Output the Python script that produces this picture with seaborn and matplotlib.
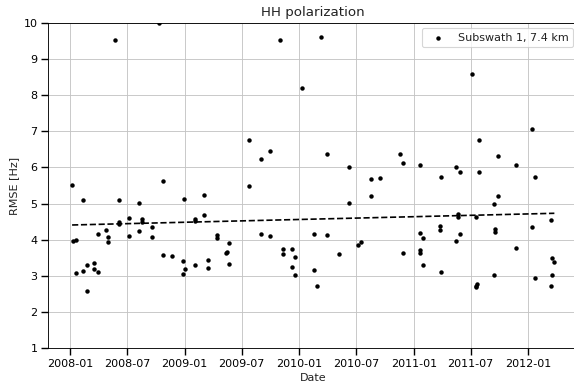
import numpy as np
import pandas as pd
import matplotlib
matplotlib.use("Agg")
import matplotlib.pyplot as plt
import matplotlib.dates as mdates
import seaborn as sns

# Acquisition offsets (days after 2008-01-01) and Doppler RMSE per acquisition
day_offset = [
    7, 10, 19, 19, 43, 43, 54, 54, 78, 78, 89, 89, 116, 123, 123, 145, 155, 155, 155,
    189, 189, 219, 219, 229, 229, 262, 262, 285, 296, 296, 325, 359, 359, 364, 367,
    398, 399, 399, 428, 428, 439, 439, 470, 470, 497, 500, 507, 507, 570, 570, 608,
    608, 638, 638, 670, 680, 680, 708, 708, 717, 717, 740, 779, 779, 786, 801, 818,
    818, 859, 890, 890, 917, 927, 959, 959, 987, 1053, 1063, 1063, 1115, 1115, 1117,
    1117, 1126, 1126, 1178, 1178, 1184, 1184, 1232, 1232, 1238, 1238, 1242, 1243,
    1280, 1293, 1293, 1297, 1293, 1305, 1305, 1353, 1356, 1356, 1353, 1364, 1364,
    1423, 1423, 1472, 1473, 1483, 1483, 1533, 1533, 1536, 1536, 1544,
]
rmse_hz = [
    5.51, 3.97, 3.99, 3.08, 5.10, 3.15, 3.29, 2.59, 3.36, 3.19, 3.12, 4.15, 4.27, 4.08,
    3.94, 9.53, 5.10, 4.48, 4.44, 4.60, 4.11, 5.01, 4.24, 4.58, 4.50, 4.36, 4.09, 9.98,
    5.63, 3.58, 3.55, 3.40, 3.06, 5.13, 3.19, 4.58, 4.52, 3.31, 5.25, 4.69, 3.43, 3.21,
    4.13, 4.04, 3.63, 3.65, 3.92, 3.34, 6.75, 5.48, 6.23, 4.15, 6.46, 4.11, 9.53, 3.74,
    3.61, 3.74, 3.25, 3.52, 3.02, 8.20, 4.17, 3.17, 2.73, 9.60, 6.38, 4.13, 3.61, 6.02,
    5.01, 3.85, 3.93, 5.67, 5.21, 5.72, 6.38, 6.12, 3.64, 6.06, 4.18, 3.71, 3.64, 4.06,
    3.29, 4.38, 4.27, 5.73, 3.12, 6.02, 3.97, 4.70, 4.64, 5.88, 4.17, 8.57, 4.64, 2.73,
    2.77, 2.70, 6.77, 5.86, 4.99, 4.29, 4.22, 3.02, 6.32, 5.22, 6.06, 3.77, 7.06, 4.34,
    5.73, 2.93, 4.54, 2.71, 3.49, 3.02, 3.38,
]
series_label = "Subswath 1, 7.4 km"

start = pd.Timestamp("2008-01-01")
df = pd.DataFrame({
    "date": start + pd.to_timedelta(day_offset, unit="D"),
    "rmse": rmse_hz,
}).sort_values("date")

# Linear trend of RMSE over time
t = np.array(day_offset, dtype=float)
coef = np.polyfit(t, np.array(rmse_hz), 1)
trend = pd.DataFrame({
    "date": [df["date"].min(), df["date"].max()],
    "rmse": np.polyval(coef, [t.min(), t.max()]),
})

sns.set_theme(style="ticks", rc={
    "axes.grid": True,
    "grid.color": "#c4c4c4",
    "grid.linewidth": 0.8,
    "axes.edgecolor": "black",
    "axes.linewidth": 0.8,
    "xtick.color": "black",
    "ytick.color": "black",
    "axes.labelcolor": "#222222",
    "text.color": "#222222",
    "font.size": 10,
    "axes.labelsize": 10,
    "axes.titlesize": 12,
    "xtick.labelsize": 10,
    "ytick.labelsize": 10,
    "legend.fontsize": 10,
})
plt.rcParams["font.family"] = ["DejaVu Sans"]

fig = plt.figure(figsize=(574 / 80, 384 / 80), dpi=80)
ax = fig.add_axes([0.0836, 0.0930, 0.9242, 0.8479])

sns.scatterplot(data=df, x="date", y="rmse", ax=ax, color="black",
                marker="o", s=16, linewidth=0, label=series_label, zorder=3)
sns.lineplot(data=trend, x="date", y="rmse", ax=ax, color="black",
             linestyle="--", linewidth=1.5, zorder=2)

ax.set_ylim(1, 10)
ax.xaxis.set_major_locator(mdates.MonthLocator(bymonth=[1, 7]))
ax.xaxis.set_major_formatter(mdates.DateFormatter("%Y-%m"))
ax.set_title("HH polarization")
ax.set_xlabel("Date")
ax.set_ylabel("RMSE [Hz]")
ax.legend(loc="upper right", frameon=True)
for s in ax.spines.values():
    s.set_visible(True)

fig.savefig("out.png", dpi=80)
